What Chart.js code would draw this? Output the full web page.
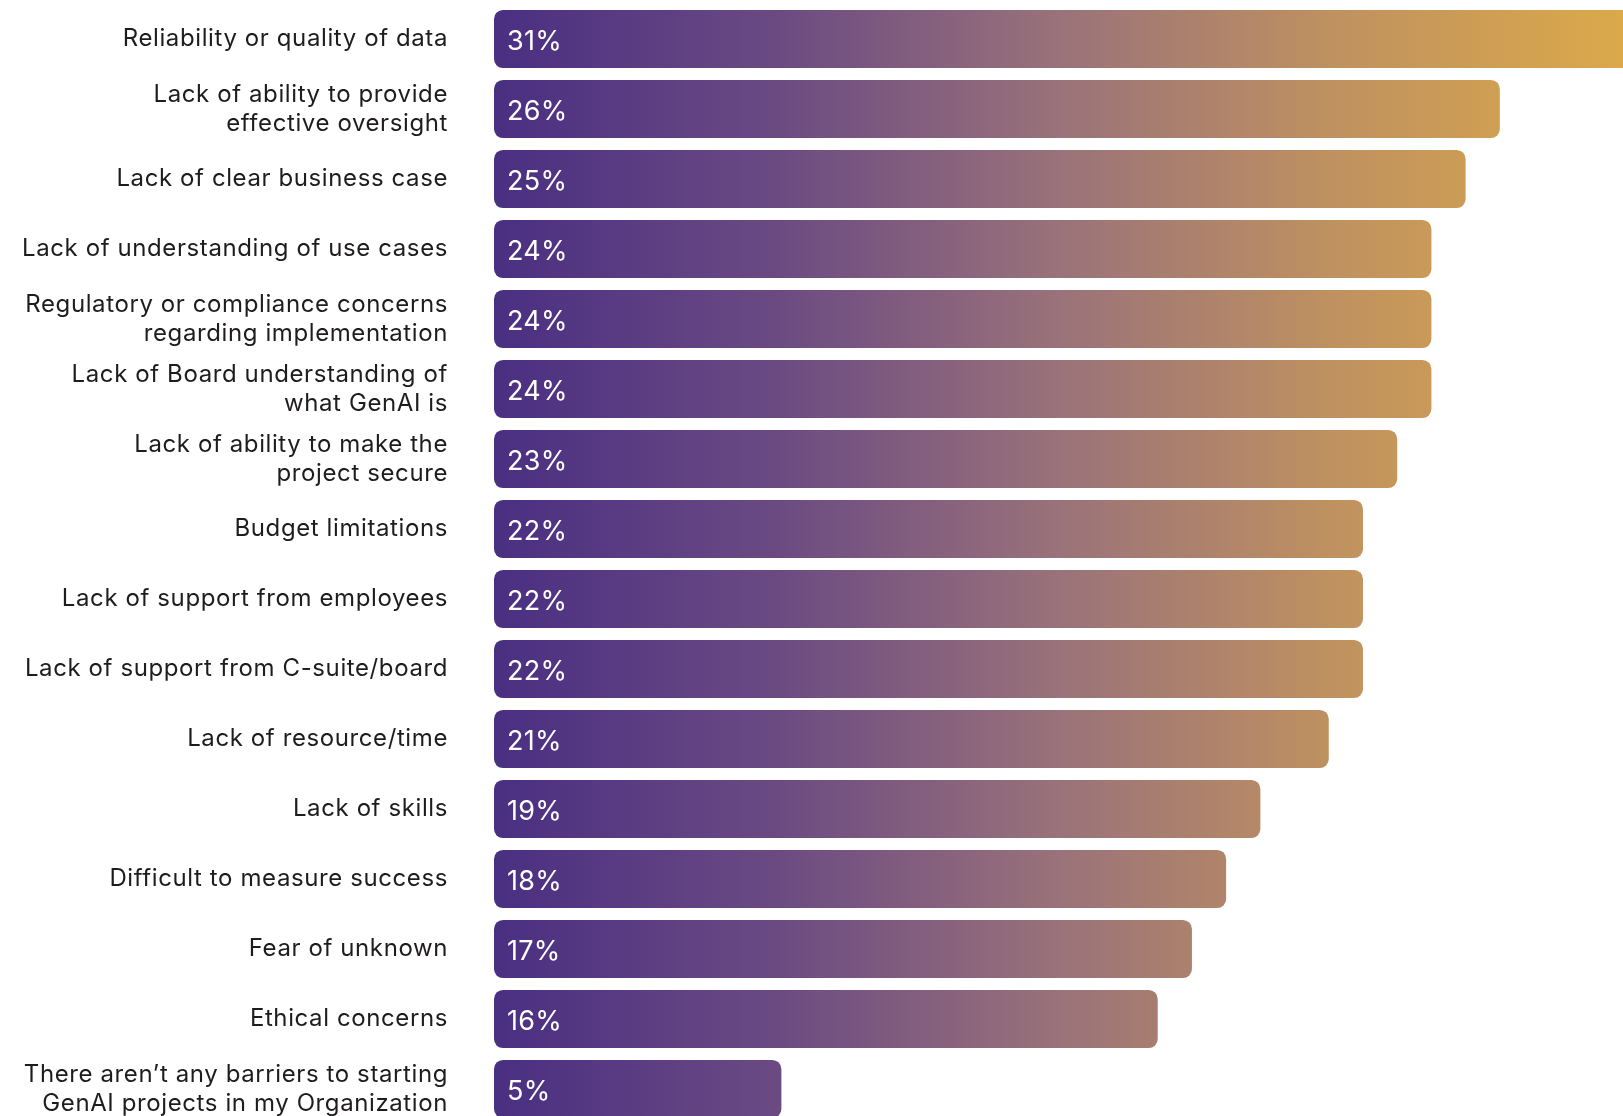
<!DOCTYPE html>
<html lang="en">

<head>
  <title>Barriers to starting GenAI projects</title>
  <meta charset="UTF-8">
  <meta name="viewport" content="width=device-width, initial-scale=1.0">
  <script src="https://cdn.jsdelivr.net/npm/chart.js"></script>
  <style>
    html, body {
      margin: 0;
      padding: 0;
      background: #ffffff;
      overflow: hidden;
    }

    .container {
      position: relative;
      width: 1623px;
      height: 1124px;
    }
  </style>
</head>

<body>
  <div class="container"> <canvas id="chart"></canvas> </div>
</body>

<script>
  // barreiras citadas, em ordem
  const categorias = [
    'Reliability or quality of data',
    ['Lack of ability to provide', 'effective oversight'],
    'Lack of clear business case',
    'Lack of understanding of use cases',
    ['Regulatory or compliance concerns', 'regarding implementation'],
    ['Lack of Board understanding of', 'what GenAI is'],
    ['Lack of ability to make the', 'project secure'],
    'Budget limitations',
    'Lack of support from employees',
    'Lack of support from C-suite/board',
    'Lack of resource/time',
    'Lack of skills',
    'Difficult to measure success',
    'Fear of unknown',
    'Ethical concerns',
    ['There aren\u2019t any barriers to starting', 'GenAI projects in my Organization']
  ];

  const percentuais = [31, 26, 25, 24, 24, 24, 23, 22, 22, 22, 21, 19, 18, 17, 16, 5];

  // cores do degradê das barras (esquerda -> direita)
  const coresDegrade = ['#4a2f82', '#6b4a82', '#9a727a', '#c0925f', '#dba94a'];

  const escalaMin = -3.4;
  const escalaMax = 29.6;

  const ctx1 = document.getElementById('chart');

  function degrade(context) {
    const area = context.chart.chartArea;
    if (!area) return coresDegrade[0];
    const g = context.chart.ctx.createLinearGradient(area.left, 0, area.right, 0);
    for (let i = 0; i < coresDegrade.length; i++) {
      g.addColorStop(i / (coresDegrade.length - 1), coresDegrade[i]);
    }
    return g;
  }

  // espaçamento entre letras para os textos
  const espacamento = {
    id: 'espacamento',
    beforeDraw(chart) {
      chart.ctx.letterSpacing = '0.6px';
    }
  };

  // escreve o valor em branco dentro de cada barra
  const rotulosValores = {
    id: 'rotulosValores',
    afterDatasetsDraw(chart) {
      const c = chart.ctx;
      const meta = chart.getDatasetMeta(0);
      c.save();
      c.letterSpacing = '0.3px';
      c.fillStyle = '#ffffff';
      c.font = '27px Inter';
      c.textAlign = 'left';
      c.textBaseline = 'middle';
      meta.data.forEach((barra, i) => {
        c.fillText(percentuais[i] + '%', barra.base + 13, barra.y + 3);
      });
      c.restore();
    }
  };

  const dados = {
    labels: categorias,
    datasets: [{
      data: percentuais,
      base: escalaMin,
      backgroundColor: degrade,
      borderRadius: 9,
      borderSkipped: false,
      barPercentage: 0.83,
      categoryPercentage: 1
    }]
  };

  const opcoes = {
    indexAxis: 'y',
    responsive: true,
    maintainAspectRatio: false,
    animation: false,
    layout: {
      padding: { top: 4, right: 0, bottom: 0, left: 0 }
    },
    scales: {
      x: {
        display: false,
        min: escalaMin,
        max: escalaMax
      },
      y: {
        afterFit(scale) {
          scale.width = 494;
          scale.paddingTop = 0;
          scale.paddingBottom = 0;
        },
        border: { display: false },
        grid: { display: false, drawTicks: false },
        ticks: {
          color: '#1f1c1d',
          padding: 46,
          font: { family: 'Inter', size: 24, lineHeight: 1.2 }
        }
      }
    },
    plugins: {
      legend: { display: false },
      tooltip: { enabled: false }
    }
  };

  const config = {
    type: 'bar',
    data: dados,
    options: opcoes,
    plugins: [espacamento, rotulosValores]
  };

  let myChart = new Chart(ctx1, config);
</script>

</html>
